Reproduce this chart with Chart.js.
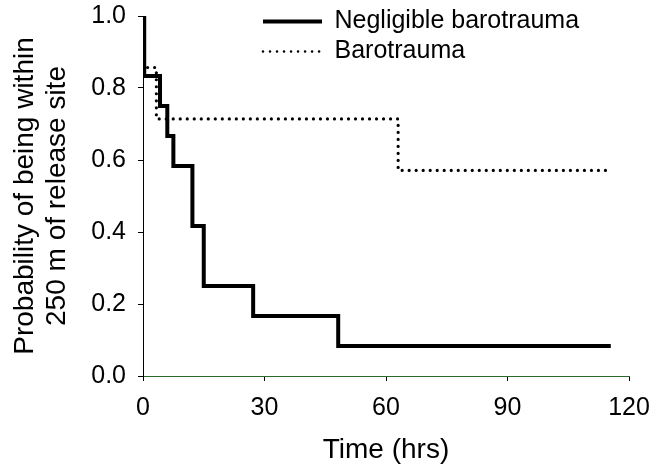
<!DOCTYPE html>
<html>
<head>
<meta charset="utf-8">
<script src="https://cdn.jsdelivr.net/npm/chart.js@4.4.1/dist/chart.umd.min.js"></script>
<style>
  html, body { margin: 0; padding: 0; background: #fff; }
</style>
</head>
<body>
<canvas id="km" width="665" height="468"></canvas>
<script>
// Kaplan-Meier style step curves
const seriesNames = ['Negligible barotrauma', 'Barotrauma'];

const negligibleTimes = [0, 0.3, 4.2, 6.0, 7.5, 12.2, 15.0, 27.2, 48.2, 115.5];
const negligibleProb  = [1.0, 0.833, 0.75, 0.667, 0.583, 0.417, 0.25, 0.167, 0.083, 0.083];

const barotraumaTimes = [0, 0.3, 3.3, 63.0, 114.3];
const barotraumaProb  = [1.0, 0.857, 0.714, 0.571, 0.571];

const xTicks = [0, 30, 60, 90, 120];
const yTicks = [0.0, 0.2, 0.4, 0.6, 0.8, 1.0];

const FONT = "'Liberation Sans', Arial, sans-serif";

function toPoints(xs, ys) {
  return xs.map((x, i) => ({ x: x, y: ys[i] }));
}

// put the legend inside the plot, top right like the original
const legendInPlot = {
  id: 'legendInPlot',
  afterLayout(chart) {
    const lg = chart.legend;
    if (!lg) return;
    lg.left = 258;
    lg.top = 4;
    lg.right = 662;
  }
};

new Chart(document.getElementById('km'), {
  type: 'line',
  data: {
    datasets: [
      {
        label: seriesNames[0],
        data: toPoints(negligibleTimes, negligibleProb),
        stepped: 'before',
        borderColor: '#000',
        borderWidth: 4,
        borderCapStyle: 'butt',
        pointRadius: 0,
        fill: false
      },
      {
        label: seriesNames[1],
        data: toPoints(barotraumaTimes, barotraumaProb),
        stepped: 'before',
        borderColor: '#000',
        borderWidth: 3.2,
        borderDash: [0.01, 7],
        borderCapStyle: 'round',
        pointRadius: 0,
        fill: false
      }
    ]
  },
  options: {
    responsive: false,
    animation: false,
    layout: { padding: { left: 0, top: 16, right: 36, bottom: 0 } },
    plugins: {
      tooltip: { enabled: false },
      legend: {
        position: 'chartArea',
        align: 'start',
        labels: {
          usePointStyle: true,
          pointStyle: 'line',
          pointStyleWidth: 59,
          boxWidth: 59,
          padding: 5,
          color: '#000',
          font: { family: FONT, size: 25 },
          generateLabels(chart) {
            return chart.data.datasets.map((ds, i) => ({
              text: ds.label,
              datasetIndex: i,
              fillStyle: 'rgba(0,0,0,0)',
              strokeStyle: '#000',
              fontColor: '#000',
              lineWidth: i === 0 ? 4 : 2.6,
              lineDash: ds.borderDash || [],
              lineCap: ds.borderCapStyle,
              pointStyle: 'line',
              hidden: false
            }));
          }
        }
      }
    },
    scales: {
      x: {
        type: 'linear',
        min: 0,
        max: 120,
        afterFit(scale) {
          scale.height = 92;
          scale.paddingLeft = 0;
          scale.paddingRight = 0;
        },
        afterBuildTicks(scale) { scale.ticks = xTicks.map(v => ({ value: v })); },
        border: { display: true, color: '#2b6a2b', width: 1 },
        grid: { drawOnChartArea: false, drawTicks: true, tickLength: 5, color: '#000' },
        ticks: {
          padding: 12,
          color: '#000',
          maxRotation: 0,
          font: { family: FONT, size: 25 }
        },
        title: {
          display: true,
          text: 'Time (hrs)',
          color: '#000',
          font: { family: FONT, size: 28 },
          padding: { top: 0, bottom: 1 }
        }
      },
      y: {
        min: 0,
        max: 1,
        afterFit(scale) {
          scale.width = 143;
          scale.paddingTop = 0;
          scale.paddingBottom = 0;
        },
        afterBuildTicks(scale) { scale.ticks = yTicks.map(v => ({ value: v })); },
        border: { display: true, color: '#000', width: 1 },
        grid: { drawOnChartArea: false, drawTicks: true, tickLength: 5, color: '#000' },
        ticks: {
          padding: 12,
          color: '#000',
          font: { family: FONT, size: 25 },
          callback: v => v.toFixed(1)
        },
        title: {
          display: true,
          text: ['Probability of being within', '250 m of release site'],
          color: '#000',
          font: { family: FONT, size: 28, lineHeight: 1.14 },
          padding: { top: 9, bottom: 0 }
        }
      }
    }
  },
  plugins: [legendInPlot]
});
</script>
</body>
</html>
